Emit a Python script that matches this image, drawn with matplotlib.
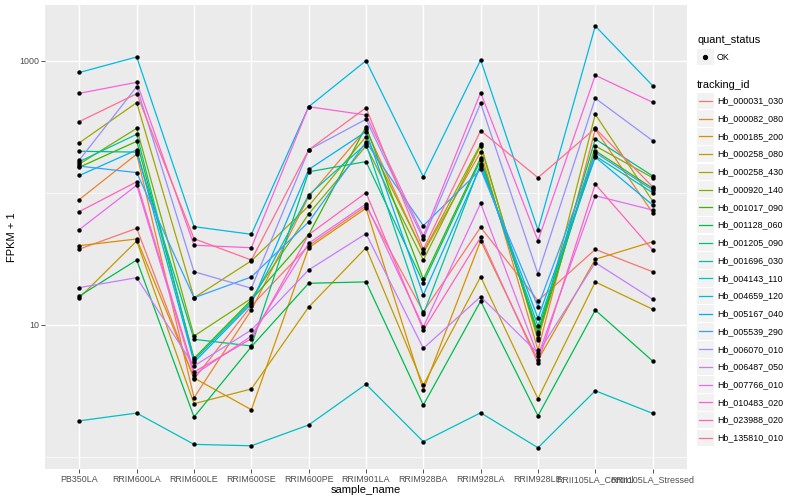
import matplotlib
matplotlib.use("Agg")
import matplotlib.pyplot as plt
from matplotlib.patches import Rectangle

plt.rcParams['font.family'] = ['Liberation Sans', 'DejaVu Sans']

samples = ["PB350LA", "RRIM600LA", "RRIM600LE", "RRIM600SE", "RRIM600PE",
           "RRIM901LA", "RRIM928BA", "RRIM928LA", "RRIM928LE",
           "RRII105LA_Control", "RRII105LA_Stressed"]

tracking_ids = ["Hb_000031_030", "Hb_000082_080", "Hb_000185_200", "Hb_000258_080",
                "Hb_000258_430", "Hb_000920_140", "Hb_001017_090", "Hb_001128_060",
                "Hb_001205_090", "Hb_001696_030", "Hb_004143_110", "Hb_004659_120",
                "Hb_005167_040", "Hb_005539_290", "Hb_006070_010", "Hb_006487_050",
                "Hb_007766_010", "Hb_010483_020", "Hb_023988_020", "Hb_135810_010"]

colors = ["#F8766D", "#EA8331", "#D89000", "#C09B00", "#A3A500", "#7CAE00",
          "#39B600", "#00BB4E", "#00BF7D", "#00C1A3", "#00BFC4", "#00BAE0",
          "#00B0F6", "#35A2FF", "#9590FF", "#C77CFF", "#E76BF3", "#FA62DB",
          "#FF62BC", "#FF6C91"]

# FPKM + 1 per sample (order of `samples`)
hb_000031_030 = [37.4, 53.7, 3.88, 13.9, 39.7, 79.3, 12.5, 54.7, 15.2, 37.2, 25.2]
hb_000082_080 = [88.8, 196, 2.80, 12.9, 93.2, 302, 34.9, 204, 6.43, 302, 70.5]
hb_000185_200 = [39.7, 44.6, 3.95, 2.27, 38.3, 76.2, 3.20, 43.3, 5.40, 31.3, 42.5]
hb_000258_080 = [16.0, 43.1, 2.52, 3.26, 13.6, 38.3, 3.49, 23.1, 2.75, 21.1, 13.1]
hb_000258_430 = [239, 481, 16.0, 30.5, 79.3, 266, 35.5, 233, 7.66, 393, 86.5]
hb_000920_140 = [165, 307, 8.21, 15.8, 69.0, 226, 30.9, 227, 7.89, 226, 130]
hb_001017_090 = [156, 245, 5.56, 15.4, 48.1, 316, 22.1, 184, 8.50, 208, 108]
hb_001128_060 = [16.5, 30.9, 2.00, 6.81, 20.6, 21.1, 2.46, 15.1, 2.04, 12.9, 5.31]
hb_001205_090 = [206, 203, 7.75, 6.90, 144, 172, 20.8, 177, 8.85, 255, 134]
hb_001696_030 = [172, 277, 5.40, 14.9, 96.0, 234, 12.0, 165, 9.77, 190, 100]
hb_004143_110 = [1.87, 2.14, 1.24, 1.21, 1.74, 3.54, 1.30, 2.15, 1.17, 3.16, 2.13]
hb_004659_120 = [814, 1067, 55.3, 48.4, 448, 1000, 132, 1012, 52.2, 1831, 647]
hb_005167_040 = [135, 211, 5.19, 14.4, 150, 290, 16.8, 159, 11.2, 186, 80.7]
hb_005539_290 = [159, 142, 16.0, 23.0, 60.0, 242, 56.2, 150, 13.7, 201, 105]
hb_006070_010 = [177, 635, 25.2, 18.9, 211, 360, 44.6, 476, 24.2, 519, 248]
hb_006487_050 = [19.1, 22.7, 4.87, 9.12, 26.0, 48.9, 6.62, 16.3, 6.10, 29.5, 15.6]
hb_007766_010 = [52.6, 114, 4.16, 8.21, 41.4, 82.1, 9.61, 83.1, 5.79, 94.9, 73.9]
hb_010483_020 = [566, 686, 40.0, 38.3, 448, 388, 47.0, 572, 43.3, 775, 484]
hb_023988_020 = [72.0, 121, 4.38, 7.83, 48.1, 100, 9.12, 45.9, 5.13, 116, 36.8]
hb_135810_010 = [346, 562, 44.8, 30.9, 211, 440, 37.2, 295, 130, 307, 111]

series = [hb_000031_030, hb_000082_080, hb_000185_200, hb_000258_080, hb_000258_430,
          hb_000920_140, hb_001017_090, hb_001128_060, hb_001205_090, hb_001696_030,
          hb_004143_110, hb_004659_120, hb_005167_040, hb_005539_290, hb_006070_010,
          hb_006487_050, hb_007766_010, hb_010483_020, hb_023988_020, hb_135810_010]

W, H = 800, 500
fig = plt.figure(figsize=(8, 5), dpi=100)
fig.patch.set_facecolor("white")
px_l, px_r, px_t, px_b = 45, 687, 5, 469
ax = fig.add_axes([px_l / W, 1 - px_b / H, (px_r - px_l) / W, (px_b - px_t) / H])
ax.set_facecolor("#EBEBEB")
for s in ax.spines.values():
    s.set_visible(False)

xs = list(range(len(samples)))
for vals, col in zip(series, colors):
    ax.plot(xs, vals, color=col, lw=0.9, zorder=3, solid_capstyle="round")
for vals in series:
    ax.scatter(xs, vals, s=10, color="black", zorder=4, linewidths=0)

ax.set_yscale("log")
ax.set_ylim(0.807, 2642)
ax.set_xlim(-0.6, len(samples) - 1 + 0.6)
ax.set_yticks([10, 1000])
ax.set_yticklabels(["10", "1000"])
ax.set_yticks([1, 100], minor=True)
ax.set_yticklabels([], minor=True)
ax.set_xticks(xs)
ax.set_xticklabels(samples)
ax.tick_params(axis="both", which="major", length=3, width=0.6, color="#333333",
               labelsize=6.4, labelcolor="#4D4D4D", pad=1.2)
ax.tick_params(axis="y", which="minor", length=0)
ax.grid(True, which="major", color="white", lw=1.0, zorder=1)
ax.grid(True, which="minor", axis="y", color="white", lw=0.5, zorder=1)
ax.set_axisbelow(True)
ax.set_xlabel("sample_name", fontsize=8, labelpad=1)
ax.set_ylabel("FPKM + 1", fontsize=8, labelpad=1.5)

# Legend (ggplot-like), drawn in pixel coordinates on an overlay axes
lax = fig.add_axes([0, 0, 1, 1])
lax.set_xlim(0, W)
lax.set_ylim(H, 0)
lax.axis("off")
lax.patch.set_visible(False)

kx, kw = 697, 16.5
lax.text(kx, 40, "quant_status", fontsize=7.9, va="center", ha="left")
lax.add_patch(Rectangle((kx, 48.7), kw, 16.6, facecolor="#F2F2F2", edgecolor="none"))
lax.plot([kx + kw / 2], [57], "o", color="black", ms=2.8)
lax.text(717, 57, "OK", fontsize=6.4, va="center", ha="left")

lax.text(kx, 85, "tracking_id", fontsize=7.9, va="center", ha="left")
y0, dy = 101, 17.73
for i, (tid, col) in enumerate(zip(tracking_ids, colors)):
    yc = y0 + i * dy
    lax.add_patch(Rectangle((kx, yc - 8.3), kw, 16.6, facecolor="#F2F2F2", edgecolor="none"))
    lax.plot([kx + 1.5, kx + kw - 1.5], [yc, yc], color=col, lw=0.9)
    lax.text(717, yc, tid, fontsize=6.4, va="center", ha="left")

fig.savefig("out.png", dpi=100)
